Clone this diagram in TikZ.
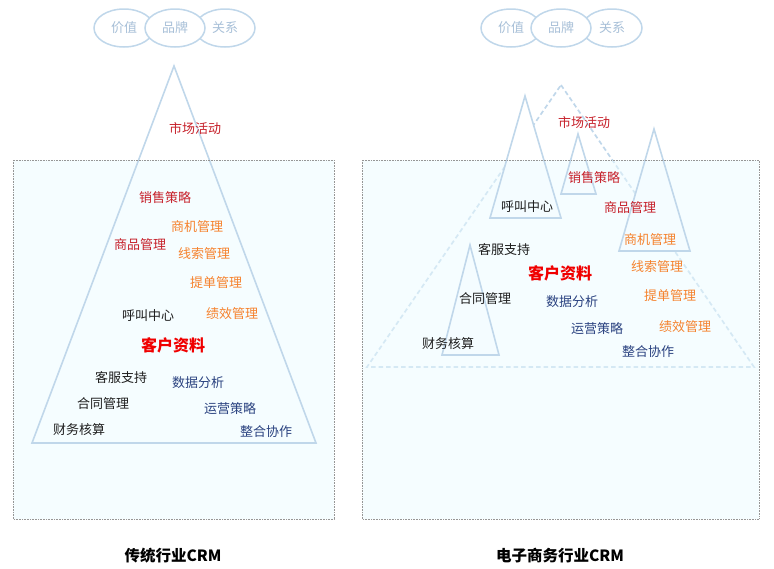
\documentclass[tikz,border=0pt]{standalone}
\usepackage{fontspec}
\setmainfont{Noto Sans CJK SC}
\usetikzlibrary{shapes.geometric}
\definecolor{tri}{RGB}{192,215,234}
\definecolor{elltext}{RGB}{168,192,216}
\definecolor{dred}{RGB}{198,32,42}
\definecolor{orng}{RGB}{245,130,45}
\definecolor{navy}{RGB}{42,66,128}
\definecolor{keyred}{RGB}{240,0,0}
\definecolor{txtblack}{RGB}{30,30,30}
\definecolor{panelfill}{RGB}{245,253,255}
\definecolor{panelfillhalf}{RGB}{235,251,255}
\definecolor{border}{RGB}{150,150,150}
\tikzset{
  x=1pt,y=-1pt,
  ell/.style={ellipse,draw=tri,line width=1.5pt,fill=white,minimum width=60pt,minimum height=38pt,inner sep=0pt,text=elltext,font=\fontsize{13}{13}\selectfont},
  tline/.style={draw=tri,line width=1.6pt,line join=miter},
  dline/.style={draw=tri,line width=1.7pt,dash pattern=on 4.5pt off 3pt},
  panel/.style={draw=border,line width=0.6pt,densely dotted},
  lbl/.style={inner sep=0pt,anchor=center,font=\fontsize{13}{13}\selectfont},
  rd/.style={lbl,text=dred},
  og/.style={lbl,text=orng},
  nv/.style={lbl,text=navy},
  bk/.style={lbl,text=txtblack},
  key/.style={inner sep=0pt,anchor=center,text=keyred,font=\fontsize{16}{16}\selectfont\bfseries},
  ttl/.style={inner sep=0pt,anchor=center,text=black,font=\fontsize{15.5}{15.5}\selectfont\bfseries}
}
\begin{document}
\begin{tikzpicture}
\useasboundingbox (0,0) rectangle (774,568);
% ---------------- left panel ----------------
\fill[panelfill] (13,160) rectangle (334,519);
\path[tline] (174,66) -- (316,443) -- (32,443) -- cycle;
\draw[panel] (13,160) rectangle (334,519);
\node[ell] (la) at (124,28) {价值};
\node[ell] (lc) at (225,28) {关系};
\node[ell] (lb) at (175,28) {品牌};
\node[rd] (l1) at (195,128) {市场活动};
\node[rd] (l2) at (165,198) {销售策略};
\node[og] (l3) at (197,227) {商机管理};
\node[rd] (l4) at (140,245) {商品管理};
\node[og] (l5) at (204,254) {线索管理};
\node[og] (l6) at (216,283) {提单管理};
\node[bk] (l7) at (148,316) {呼叫中心};
\node[og] (l8) at (232,314) {绩效管理};
\node[key] (l9) at (173,345) {客户资料};
\node[bk] (l10) at (121,378) {客服支持};
\node[nv] (l11) at (198,383) {数据分析};
\node[bk] (l12) at (103,404) {合同管理};
\node[nv] (l13) at (230,409) {运营策略};
\node[bk] (l14) at (79,430) {财务核算};
\node[nv] (l15) at (266,432) {整合协作};
\node[ttl] (lt) at (173,556) {传统行业CRM};
% ---------------- right panel ----------------
\path[dline] (561,85) -- (754,367) -- (367,367) -- cycle;
\fill[white] (525,96) -- (561,218) -- (490,218) -- cycle;
\fill[white] (578,134) -- (596,194) -- (561,194) -- cycle;
\fill[white] (654,129) -- (690,251) -- (619,251) -- cycle;
\fill[white] (470,245) -- (499,355) -- (442,355) -- cycle;
\fill[panelfillhalf,fill opacity=0.5] (362,160) rectangle (759,519);
\path[tline] (525,96) -- (561,218) -- (490,218) -- cycle;
\path[tline] (578,134) -- (596,194) -- (561,194) -- cycle;
\path[tline] (654,129) -- (690,251) -- (619,251) -- cycle;
\path[tline] (470,245) -- (499,355) -- (442,355) -- cycle;
\draw[panel] (362,160) rectangle (759,519);
\node[ell] (ra) at (511,28) {价值};
\node[ell] (rc) at (612,28) {关系};
\node[ell] (rb) at (561,28) {品牌};
\node[rd] (r1) at (584,122) {市场活动};
\node[rd] (r2) at (594,178) {销售策略};
\node[bk] (r3) at (527,207) {呼叫中心};
\node[rd] (r4) at (630,208) {商品管理};
\node[og] (r5) at (650,240) {商机管理};
\node[bk] (r6) at (504,250) {客服支持};
\node[og] (r7) at (657,267) {线索管理};
\node[key] (r8) at (560,273) {客户资料};
\node[bk] (r9) at (485,299) {合同管理};
\node[nv] (r10) at (572,302) {数据分析};
\node[og] (r11) at (670,296) {提单管理};
\node[nv] (r12) at (597,329) {运营策略};
\node[og] (r13) at (685,327) {绩效管理};
\node[bk] (r14) at (448,344) {财务核算};
\node[nv] (r15) at (648,352) {整合协作};
\node[ttl] (rt) at (560,556) {电子商务行业CRM};
\end{tikzpicture}
\end{document}
